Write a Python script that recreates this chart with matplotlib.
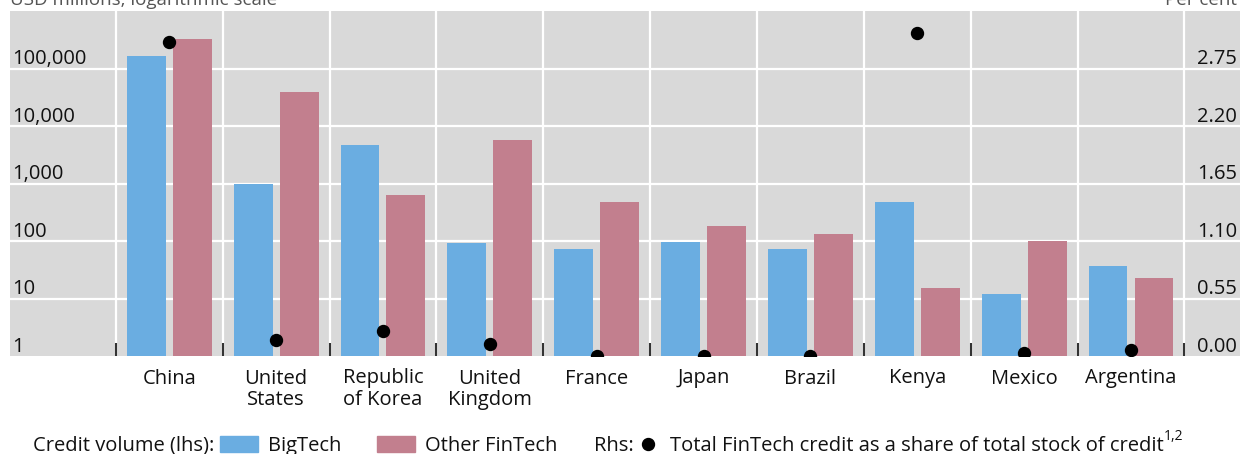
#!/usr/bin/env python3
"""
BigTech and other FinTech credit volumes by country, with FinTech credit share (rhs).
"""

import matplotlib.pyplot as plt
import numpy as np
from matplotlib.patches import Rectangle
from matplotlib.transforms import blended_transform_factory

plt.rcParams["font.family"] = ["Open Sans", "DejaVu Sans"]

countries = ["China", "United\nStates", "Republic\nof Korea", "United\nKingdom", "France",
             "Japan", "Brazil", "Kenya", "Mexico", "Argentina"]
bigtech = [162000, 990, 4740, 93, 73, 96, 73, 477, 12, 37]
other_fintech = [320000, 39800, 640, 5800, 477, 182, 132, 15, 100, 23]
fintech_share = [3.0, 0.15, 0.24, 0.115, 0.0, 0.0, 0.0, 3.09, 0.025, 0.057]

lhs_ticks = [1, 10, 100, 1000, 10000, 100000]
lhs_labels = ["1", "10", "100", "1,000", "10,000", "100,000"]
rhs_ticks = [0.0, 0.55, 1.10, 1.65, 2.20, 2.75]

BLUE = "#6aade1"
PINK = "#c27f8e"
BG = "#d9d9d9"
FS = 14.5
INK = "#111111"


def px(xp, yp):
    """Pixel position (from top-left) to figure fraction."""
    return xp / 1240, 1 - yp / 454


fig = plt.figure(figsize=(12.4, 4.54), dpi=100)
ax = fig.add_axes([10 / 1240, 1 - 356 / 454, 1230 / 1240, 345 / 454])
ax.set_facecolor(BG)
for s in ax.spines.values():
    s.set_visible(False)

x = np.arange(len(countries))
w = 0.364
off = 0.215
ax.bar(x - off, bigtech, width=w, color=BLUE, zorder=3)
ax.bar(x + off, other_fintech, width=w, color=PINK, zorder=3)
ax.set_yscale("log")
ax.set_ylim(1, 1e6)
ax.set_xlim(-1.49, 10.02)

# gridlines and the little category-boundary ticks
for t in lhs_ticks[1:]:
    ax.axhline(t, color="white", lw=1.6, zorder=1)
for b in np.arange(-0.5, len(countries), 1.0):
    ax.axvline(b, color="white", lw=1.6, zorder=1)
    ax.plot([b, b], [1, 1.7], color="#333333", lw=1.5, zorder=4, solid_capstyle="butt")

ax.set_xticks(x)
ax.set_xticklabels(countries, fontsize=FS, linespacing=1.12, color=INK)
ax.tick_params(axis="x", length=0, pad=9)
ax.set_yticks([])
ax.minorticks_off()

# left labels sit just above their gridline
trans = blended_transform_factory(ax.transAxes, ax.transData)
for t, lab in zip(lhs_ticks, lhs_labels):
    ax.annotate(lab, xy=(0, t), xycoords=trans, xytext=(1.5, 3), textcoords="offset points",
                ha="left", va="baseline", fontsize=FS, color=INK)

ax2 = ax.twinx()
for s in ax2.spines.values():
    s.set_visible(False)
ax2.set_ylim(0, 3.3)
ax2.set_yticks([])
ax2.plot(x, fintech_share, "o", color="black", markersize=8.6, zorder=5)
trans2 = blended_transform_factory(ax2.transAxes, ax2.transData)
for t in rhs_ticks:
    ax2.annotate(f"{t:.2f}", xy=(1, t), xycoords=trans2, xytext=(-2, 3), textcoords="offset points",
                 ha="right", va="baseline", fontsize=FS, color=INK)

# axis titles, cut off by the top of the figure as in the original
fig.text(*px(10, 5), "USD millions, logarithmic scale", ha="left", va="baseline",
         fontsize=13.5, color="#555555")
fig.text(*px(1237, 5), "Per cent", ha="right", va="baseline", fontsize=13.5, color="#555555")

# legend row
ly = 451
fig.text(*px(33, ly), "Credit volume (lhs):", ha="left", va="baseline", fontsize=FS, color=INK)
fig.patches.append(Rectangle(px(220, 452), 38 / 1240, 16 / 454,
                             transform=fig.transFigure, color=BLUE))
fig.text(*px(268, ly), "BigTech", ha="left", va="baseline", fontsize=FS, color=INK)
fig.patches.append(Rectangle(px(377, 452), 38 / 1240, 16 / 454,
                             transform=fig.transFigure, color=PINK))
fig.text(*px(425, ly), "Other FinTech", ha="left", va="baseline", fontsize=FS, color=INK)
fig.text(*px(594, ly), "Rhs:", ha="left", va="baseline", fontsize=FS, color=INK)
fig.lines.append(plt.Line2D([648 / 1240], [1 - 444 / 454], marker="o", color="black",
                            markersize=8.6, transform=fig.transFigure))
fig.text(*px(670, ly), "Total FinTech credit as a share of total stock of credit",
         ha="left", va="baseline", fontsize=FS, color=INK)
fig.text(*px(1164, 440), "1,2", ha="left", va="baseline", fontsize=10, color=INK)

fig.savefig("out.png", dpi=100)
